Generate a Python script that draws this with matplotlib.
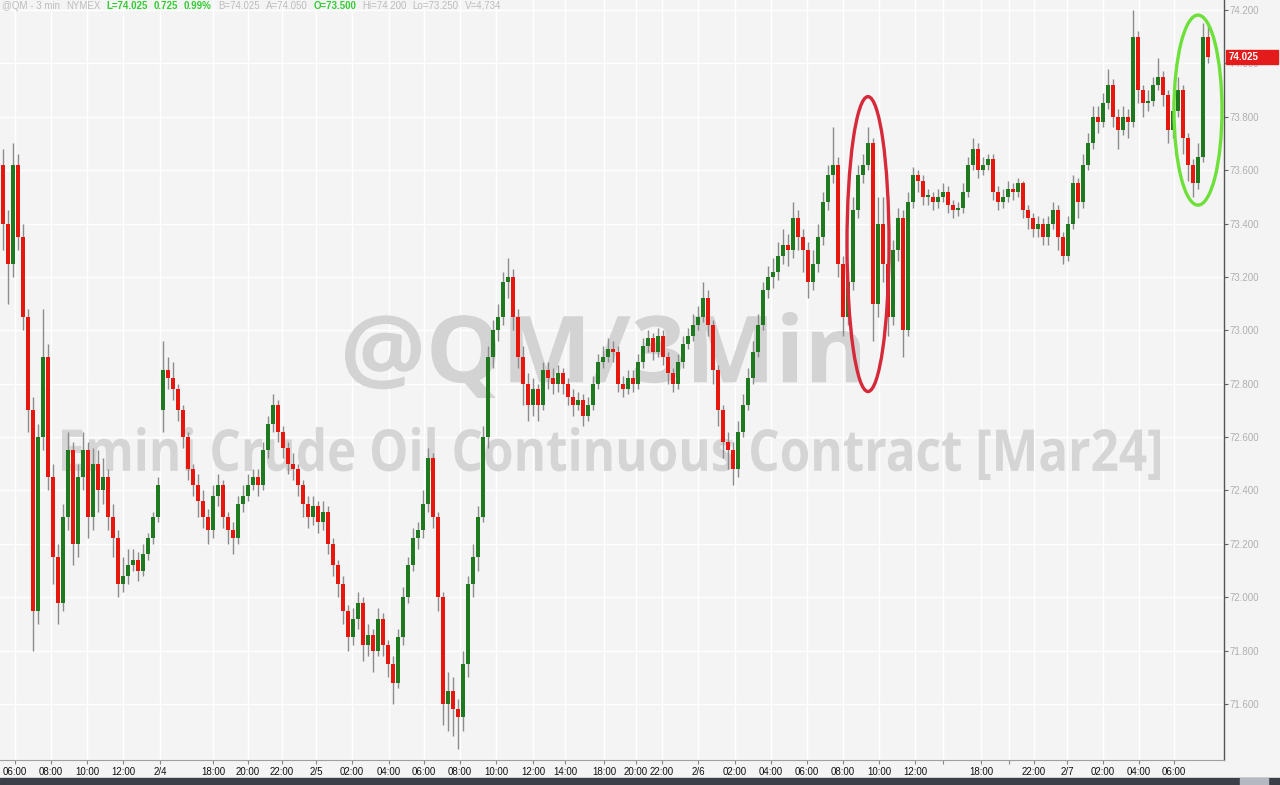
import matplotlib
matplotlib.use('Agg')
import matplotlib.pyplot as plt
import matplotlib.transforms as mtransforms
from matplotlib.patches import Ellipse, Rectangle, PathPatch
from matplotlib.textpath import TextPath
from matplotlib.font_manager import FontProperties
import numpy as np

# 20-minute candles (2/2 - 2/7)
closes = [
    73.40, 73.25, 73.62, 73.35, 73.05, 72.70, 71.95, 72.60, 72.90, 72.45,
    72.15, 71.98, 72.30, 72.55, 72.20, 72.45, 72.55, 72.30, 72.50, 72.40,
    72.45, 72.30, 72.22, 72.05, 72.08, 72.12, 72.14, 72.10, 72.16, 72.22,
    72.30, 72.42, 72.85, 72.82, 72.78, 72.70, 72.60, 72.48, 72.42, 72.36,
    72.30, 72.25, 72.38, 72.42, 72.30, 72.25, 72.22, 72.35, 72.38, 72.42,
    72.45, 72.42, 72.55, 72.65, 72.72, 72.62, 72.56, 72.50, 72.48, 72.42,
    72.35, 72.30, 72.34, 72.28, 72.32, 72.20, 72.12, 72.05, 71.95, 71.85,
    71.92, 71.98, 71.82, 71.86, 71.80, 71.92, 71.82, 71.75, 71.68, 71.85,
    72.00, 72.12, 72.22, 72.25, 72.35, 72.52, 72.30, 72.00, 71.60, 71.65,
    71.58, 71.55, 71.75, 72.05, 72.15, 72.30, 72.60, 72.90, 73.00, 73.05,
    73.18, 73.20, 73.05, 72.90, 72.80, 72.72, 72.78, 72.72, 72.85, 72.82,
    72.80, 72.84, 72.80, 72.75, 72.72, 72.74, 72.68, 72.72, 72.80, 72.88,
    72.90, 72.93, 72.92, 72.80, 72.78, 72.82, 72.80, 72.88, 72.94, 72.97,
    72.92, 72.98, 72.90, 72.84, 72.80, 72.88, 72.95, 72.98, 73.02, 73.05,
    73.12, 73.02, 72.85, 72.70, 72.58, 72.55, 72.48, 72.62, 72.72, 72.82,
    72.92, 73.02, 73.15, 73.20, 73.22, 73.28, 73.32, 73.30, 73.42, 73.35,
    73.30, 73.18, 73.25, 73.35, 73.48, 73.58, 73.62, 73.25, 73.05, 73.18,
    73.45, 73.58, 73.62, 73.70, 73.10, 73.40, 73.25, 73.05, 73.30, 73.42,
    73.00, 73.48, 73.58, 73.56, 73.50, 73.50, 73.48, 73.50, 73.52, 73.47,
    73.45, 73.46, 73.52, 73.62, 73.68, 73.60, 73.62, 73.64, 73.52, 73.48,
    73.50, 73.53, 73.52, 73.55, 73.45, 73.42, 73.38, 73.40, 73.35, 73.40,
    73.45, 73.35, 73.28, 73.40, 73.55, 73.48, 73.62, 73.70, 73.80, 73.78,
    73.85, 73.92, 73.80, 73.75, 73.80, 73.78, 74.10, 73.90, 73.85, 73.86,
    73.92, 73.95, 73.88, 73.75, 73.82, 73.90, 73.72, 73.62, 73.55, 73.65,
    74.10, 74.025,
]
highs = [
    73.68, 73.45, 73.70, 73.66, 73.40, 73.08, 72.75, 72.65, 73.08, 72.95,
    72.50, 72.20, 72.35, 72.62, 72.58, 72.50, 72.62, 72.58, 72.56, 72.55,
    72.52, 72.48, 72.35, 72.25, 72.15, 72.18, 72.18, 72.17, 72.20, 72.24,
    72.32, 72.45, 72.96, 72.90, 72.88, 72.80, 72.72, 72.62, 72.50, 72.46,
    72.40, 72.33, 72.42, 72.46, 72.44, 72.32, 72.28, 72.38, 72.42, 72.46,
    72.48, 72.48, 72.58, 72.68, 72.76, 72.74, 72.64, 72.58, 72.54, 72.50,
    72.44, 72.38, 72.38, 72.36, 72.36, 72.34, 72.22, 72.14, 72.08, 71.97,
    71.96, 72.02, 72.00, 71.90, 71.88, 71.96, 71.94, 71.84, 71.78, 71.88,
    72.04, 72.15, 72.26, 72.28, 72.40, 72.56, 72.54, 72.32, 72.02, 71.72,
    71.70, 71.62, 71.80, 72.08, 72.20, 72.34, 72.64, 72.94, 73.04, 73.10,
    73.22, 73.27, 73.23, 73.08, 72.94, 72.84, 72.82, 72.80, 72.88, 72.88,
    72.86, 72.87, 72.86, 72.82, 72.78, 72.77, 72.76, 72.75, 72.83, 72.91,
    72.94, 72.97, 72.96, 72.94, 72.83, 72.85, 72.85, 72.91, 72.97, 73.00,
    72.99, 73.01, 73.00, 72.92, 72.86, 72.91, 72.98, 73.01, 73.06, 73.09,
    73.18, 73.15, 73.04, 72.87, 72.72, 72.62, 72.58, 72.66, 72.76, 72.86,
    72.96, 73.06, 73.18, 73.24, 73.27, 73.33, 73.38, 73.36, 73.48, 73.45,
    73.38, 73.33, 73.30, 73.40, 73.52, 73.62, 73.76, 73.65, 73.28, 73.22,
    73.50, 73.62, 73.66, 73.76, 73.72, 73.50, 73.50, 73.28, 73.34, 73.46,
    73.45, 73.52, 73.61, 73.60, 73.58, 73.53, 73.52, 73.53, 73.55, 73.54,
    73.49, 73.48, 73.55, 73.65, 73.72, 73.70, 73.65, 73.66, 73.66, 73.54,
    73.53, 73.56, 73.55, 73.57, 73.56, 73.47, 73.44, 73.43, 73.42, 73.43,
    73.48, 73.47, 73.37, 73.43, 73.58, 73.57, 73.66, 73.74, 73.84, 73.84,
    73.89, 73.98, 73.94, 73.83, 73.84, 73.83, 74.20, 74.12, 73.92, 73.90,
    73.95, 74.02, 73.97, 73.90, 73.86, 73.95, 73.92, 73.74, 73.64, 73.70,
    74.15, 74.15,
]
lows = [
    73.30, 73.10, 73.20, 73.30, 73.00, 72.62, 71.80, 71.90, 72.55, 72.40,
    72.05, 71.90, 71.95, 72.25, 72.12, 72.15, 72.40, 72.22, 72.25, 72.32,
    72.35, 72.25, 72.15, 72.00, 72.02, 72.05, 72.10, 72.06, 72.08, 72.14,
    72.20, 72.28, 72.62, 72.78, 72.74, 72.66, 72.56, 72.44, 72.38, 72.30,
    72.26, 72.20, 72.22, 72.34, 72.26, 72.20, 72.16, 72.20, 72.32, 72.36,
    72.40, 72.38, 72.40, 72.52, 72.62, 72.58, 72.52, 72.46, 72.44, 72.38,
    72.30, 72.26, 72.27, 72.24, 72.25, 72.16, 72.08, 72.00, 71.90, 71.80,
    71.82, 71.88, 71.76, 71.78, 71.72, 71.78, 71.78, 71.70, 71.60, 71.66,
    71.82, 71.98, 72.10, 72.18, 72.22, 72.32, 72.26, 71.95, 71.52, 71.50,
    71.48, 71.43, 71.50, 71.70, 72.00, 72.10, 72.28, 72.56, 72.86, 72.96,
    73.02, 73.12, 73.00, 72.86, 72.72, 72.66, 72.68, 72.66, 72.70, 72.78,
    72.76, 72.77, 72.76, 72.72, 72.68, 72.70, 72.64, 72.66, 72.70, 72.78,
    72.86, 72.88, 72.88, 72.77, 72.75, 72.76, 72.77, 72.78, 72.86, 72.92,
    72.89, 72.90, 72.87, 72.80, 72.77, 72.78, 72.86, 72.93, 72.96, 73.00,
    73.03, 72.98, 72.80, 72.64, 72.52, 72.48, 72.42, 72.45, 72.60, 72.70,
    72.80, 72.90, 73.00, 73.12, 73.16, 73.19, 73.25, 73.24, 73.27, 73.30,
    73.22, 73.12, 73.15, 73.22, 73.32, 73.45, 73.55, 73.20, 72.98, 73.02,
    73.15, 73.42, 73.55, 73.60, 72.96, 73.05, 73.18, 72.98, 73.02, 73.26,
    72.90, 72.98, 73.46, 73.52, 73.47, 73.47, 73.45, 73.46, 73.48, 73.44,
    73.42, 73.43, 73.44, 73.50, 73.60, 73.57, 73.58, 73.60, 73.49, 73.45,
    73.46, 73.48, 73.49, 73.50, 73.42, 73.38, 73.35, 73.35, 73.32, 73.32,
    73.38, 73.30, 73.25, 73.26, 73.38, 73.42, 73.46, 73.60, 73.68, 73.74,
    73.76, 73.83, 73.76, 73.68, 73.73, 73.72, 73.76, 73.85, 73.80, 73.82,
    73.84, 73.90, 73.84, 73.70, 73.72, 73.80, 73.66, 73.56, 73.50, 73.53,
    73.63, 74.00,
]
first_open = 73.62
session_opens = {32: 72.70}   # Sunday re-open gaps above Friday close

tick_pos = [2.5, 9.7, 16.9, 24.1, 31.5, 42.1, 49.1, 55.9, 62.7, 69.9,
            77.3, 84.3, 91.5, 98.7, 106.1, 112.5, 120.3, 126.7, 131.9, 139.1,
            146.5, 153.7, 160.9, 168.1, 175.3, 182.5, 188.1, 195.7, 201.3, 206.3,
            212.9, 220.1, 227.3, 234.3]
tick_labels = ['06:00', '08:00', '10:00', '12:00', '2/4', '18:00', '20:00', '22:00', '2/5', '02:00',
               '04:00', '06:00', '08:00', '10:00', '12:00', '14:00', '18:00', '20:00', '22:00', '2/6',
               '02:00', '04:00', '06:00', '08:00', '10:00', '12:00', '', '18:00', '', '22:00',
               '2/7', '02:00', '04:00', '06:00']
day_ticks = [31.5, 62.7, 139.1, 212.9]
price_ticks = [71.6, 71.8, 72.0, 72.2, 72.4, 72.6, 72.8, 73.0, 73.2, 73.4, 73.6, 73.8, 74.0, 74.2]
last_price = 74.025
header = [('@QM - 3 min', False), ('NYMEX', False), ('L=74.025', True), ('0.725', True),
          ('0.99%', True), ('B=74.025', False), ('A=74.050', False), ('O=73.500', True),
          ('Hi=74.200', False), ('Lo=73.250', False), ('V=4,734', False)]

opens = [first_open] + closes[:-1]
for k, v in session_opens.items():
    opens[k] = v

BG = '#f4f4f4'
UP = '#1f7a1f'
DOWN = '#e5170f'
W, H = 1280, 785

fig = plt.figure(figsize=(12.8, 7.85), dpi=100, facecolor=BG)
ax = fig.add_axes([0, 25 / H, 1224 / W, 760 / H])
ax.set_facecolor(BG)


def watermark(s, box, color):
    # stretch the text outline into a pixel box (left, top, right, bottom)
    x0, y0, x1, y1 = box
    tp = TextPath((0, 0), s, size=100, prop=FontProperties(family='Open Sans', weight='bold'))
    ext = tp.get_extents()
    tr = (mtransforms.Affine2D().translate(-ext.x0, -ext.y0)
          .scale((x1 - x0) / ext.width, (y1 - y0) / ext.height)
          .translate(x0, H - y1))
    ax.add_patch(PathPatch(tp, transform=tr, fc=color, lw=0, zorder=1, clip_on=False))


watermark('@QM/3Min', (345, 312, 860, 398), '#d3d3d3')
watermark('Emini Crude Oil Continuous Contract [Mar24]', (62, 427, 1160, 480), '#d5d5d5')

# candles
x = np.arange(len(closes))
o = np.array(opens)
c = np.array(closes)
colors = np.where(c >= o, UP, DOWN)
body_lo = np.minimum(o, c)
body_h = np.maximum(np.abs(c - o), 0.006)
ax.vlines(x, lows, highs, color='#8c8c8c', lw=1, zorder=3)
ax.bar(x, body_h, bottom=body_lo, width=0.8, color=colors, linewidth=0, zorder=4)

# highlight ellipses
ax.add_patch(Ellipse((173.1, 73.323), 8.4, 1.105, fill=False, ec='#d62a3a', lw=2.4, zorder=5))
ax.add_patch(Ellipse((239.1, 73.825), 9.6, 0.712, fill=False, ec='#6de03a', lw=2.4, zorder=5))

ax.set_xlim(-0.5, 244.3)
ax.set_ylim(71.390, 74.2375)

ax.grid(True, color='white', lw=1, zorder=0)
ax.set_axisbelow(True)

ax.yaxis.tick_right()
ax.set_yticks(price_ticks)
ax.set_yticklabels(['%.3f' % p for p in price_ticks], family='Liberation Sans',
                   fontsize=7, color='#b0b0b0')
ax.tick_params(axis='y', length=3, width=0.8, color='#666666', pad=1)

ax.set_xticks(tick_pos)
ax.set_xticklabels(tick_labels, family='Liberation Sans', fontsize=7, color='#111111')
ax.tick_params(axis='x', length=3, width=0.8, color='#888888', pad=2)
ax.set_xticks(day_ticks, minor=True)
ax.tick_params(axis='x', which='minor', length=7, width=0.8, color='#555555')

for s in ['left', 'top']:
    ax.spines[s].set_visible(False)
ax.spines['right'].set_color('#555555')
ax.spines['right'].set_linewidth(1)
ax.spines['bottom'].set_color('#a0a0a0')
ax.spines['bottom'].set_linewidth(0.8)

# last price marker
trans = mtransforms.blended_transform_factory(ax.transAxes, ax.transData)
ax.add_patch(Rectangle((1.0016, last_price - 0.026), 0.0425, 0.052, transform=trans,
                       color='#e41b1b', clip_on=False, zorder=6))
ax.text(1.004, last_price, '%.3f' % last_price, transform=trans, va='center', ha='left',
        fontsize=7, fontweight='bold', color='white', family='Liberation Sans', zorder=7)

# header line, laid out left to right
renderer = fig.canvas.get_renderer()
px = 2
for txt, hot in header:
    t = fig.text(px / W, 1 - 6 / H, txt, color='#33cc33' if hot else '#bdbdbd', fontsize=7,
                 family='Liberation Sans', fontweight='bold' if hot else 'normal',
                 va='center', ha='left')
    px += t.get_window_extent(renderer).width + 6

# bottom scroll bar
fig.patches.append(Rectangle((0, 0), 1, 7 / H, transform=fig.transFigure, color='#3b4048', zorder=0))
fig.patches.append(Rectangle((1240 / W, 0), 28 / W, 7 / H, transform=fig.transFigure,
                             color='#b4b8c0', zorder=1))

fig.savefig('out.png', dpi=100, facecolor=BG)
